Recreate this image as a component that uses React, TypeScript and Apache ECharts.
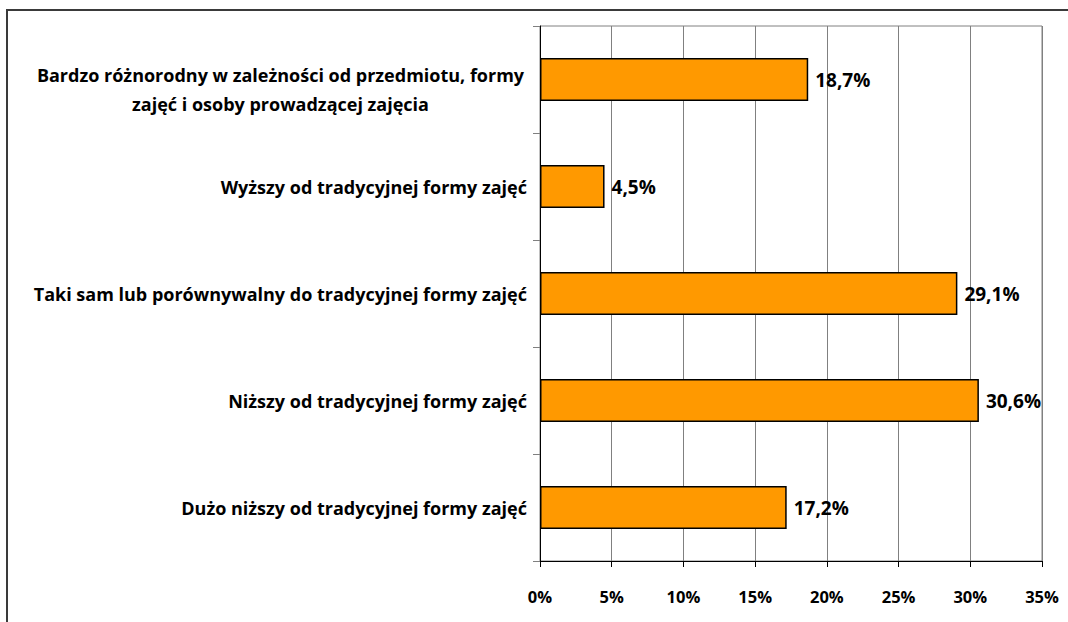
import React, { useEffect, useRef } from "react";
import * as echarts from "echarts";

const categories = [
  "Bardzo różnorodny w zależności od przedmiotu, formy\nzajęć i osoby prowadzącej zajęcia",
  "Wyższy od tradycyjnej formy zajęć",
  "Taki sam lub porównywalny do tradycyjnej formy zajęć",
  "Niższy od tradycyjnej formy zajęć",
  "Dużo niższy od tradycyjnej formy zajęć",
];
const values = [18.7, 4.5, 29.1, 30.6, 17.2];
const xTicks = [0, 5, 10, 15, 20, 25, 30, 35];

const FONT = "'Open Sans', 'Noto Sans', sans-serif";

export default function App() {
  const ref = useRef<HTMLDivElement>(null);
  useEffect(() => {
    if (!ref.current) return;
    const chart = echarts.init(ref.current, null, { renderer: "svg" });
    const lineStyle = {
      width: 493,
      align: "center",
      color: "#000",
      fontFamily: FONT,
      fontWeight: "bold",
      fontSize: 18,
      lineHeight: 29,
    };
    chart.setOption({
      animation: false,
      backgroundColor: "#ffffff",
      graphic: [
        {
          type: "rect",
          shape: { x: 7, y: 10, width: 1100, height: 700 },
          style: { fill: "none", stroke: "#3a3a3a", lineWidth: 2 },
          silent: true,
          z: 100,
        },
      ],
      grid: {
        left: 540,
        right: 26,
        top: 26,
        bottom: 61,
        show: true,
        borderColor: "#808080",
        borderWidth: 1,
      },
      xAxis: {
        type: "value",
        min: xTicks[0],
        max: xTicks[xTicks.length - 1],
        interval: 5,
        axisLine: { show: true, lineStyle: { color: "#000", width: 1 } },
        axisTick: { show: true, length: 6, lineStyle: { color: "#000" } },
        splitLine: { show: true, lineStyle: { color: "#808080", width: 1 } },
        axisLabel: {
          formatter: (v: number) => `${v}%`,
          color: "#000",
          fontFamily: FONT,
          fontWeight: "bold",
          fontSize: 16.5,
          margin: 27,
        },
      },
      yAxis: {
        type: "category",
        inverse: true,
        data: categories,
        axisLine: { show: true, lineStyle: { color: "#000", width: 1 } },
        axisTick: { show: true, length: 7, lineStyle: { color: "#808080" } },
        axisLabel: {
          color: "#000",
          fontFamily: FONT,
          fontWeight: "bold",
          fontSize: 18,
          margin: 13,
          formatter: (v: string) => {
            if (v.includes("\n")) {
              const ls = v.split("\n");
              return `{e| }\n{c|${ls[0]}}\n{c|${ls[1]}}`;
            }
            return v;
          },
          rich: {
            e: { ...lineStyle, fontSize: 10, lineHeight: 20, height: 20 },
            c: lineStyle,
          },
        },
      },
      series: [
        {
          type: "bar",
          data: values,
          barCategoryGap: "60%",
          itemStyle: { color: "#FF9900", borderColor: "#000", borderWidth: 1.5 },
          label: {
            show: true,
            position: "right",
            distance: 7,
            formatter: (p: any) => `${p.value.toFixed(1).replace(".", ",")}%`,
            color: "#000",
            fontFamily: FONT,
            fontWeight: "bold",
            fontSize: 19,
          },
        },
      ],
    });
    return () => chart.dispose();
  }, []);
  return (
    <div
      ref={ref}
      style={{ position: "fixed", left: 0, top: 0, width: 1068, height: 622 }}
    />
  );
}
